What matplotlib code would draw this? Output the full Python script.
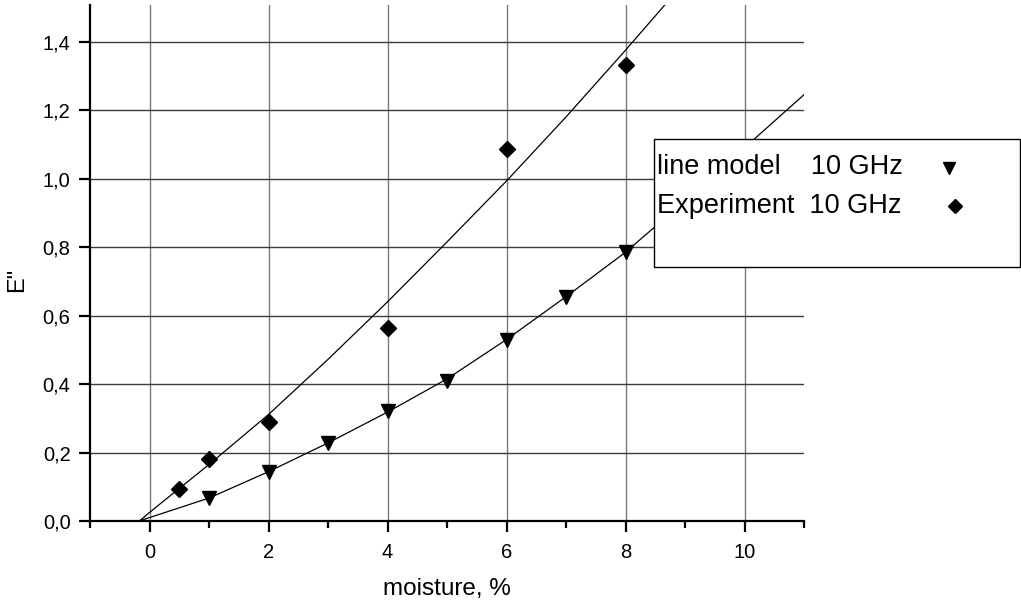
import numpy as np
import matplotlib
matplotlib.use("Agg")
import matplotlib.pyplot as plt
from matplotlib.patches import Rectangle
from matplotlib.lines import Line2D

plt.rcParams['font.family'] = ['Liberation Sans', 'DejaVu Sans']

# measured points
model_x = [1, 2, 3, 4, 5, 6, 7, 8]
model_y = [0.067, 0.144, 0.229, 0.32, 0.41, 0.53, 0.655, 0.787]
exp_x = [0.5, 1, 2, 4, 6, 8]
exp_y = [0.093, 0.18, 0.29, 0.563, 1.086, 1.333]

# fitted curves
fit_exp_x = [-0.17, 0, 1, 2, 3, 4, 5, 6, 7, 8, 8.7]
fit_exp_y = [0.0, 0.025, 0.165, 0.311, 0.472, 0.64, 0.815, 0.993, 1.18, 1.375, 1.515]
fit_model_x = [-0.17, 0, 1, 2, 3, 4, 5, 6, 7, 8, 9, 10, 11]
fit_model_y = [0.0, 0.01, 0.067, 0.144, 0.228, 0.318, 0.415, 0.53, 0.655, 0.785, 0.935, 1.09, 1.245]

xticks = [0, 2, 4, 6, 8, 10]
yticks = [0.0, 0.2, 0.4, 0.6, 0.8, 1.0, 1.2, 1.4]

W, H = 1021, 606
fig = plt.figure(figsize=(W / 100, H / 100), dpi=100)
ax = fig.add_axes([90 / W, 1 - 521 / H, (804 - 90) / W, (521 - 5) / H])

ax.set_xlim(-1, 11)
ax.set_ylim(0, 1.507)

# grid
for x in xticks:
    ax.axvline(x, color='#7a7a7a', lw=1.0, zorder=1)
for y in yticks[1:]:
    ax.axhline(y, color='#3c3c3c', lw=1.0, zorder=1)

ax.plot(fit_exp_x, fit_exp_y, color='black', lw=0.9, zorder=2)
ax.plot(fit_model_x, fit_model_y, color='black', lw=0.9, zorder=2)
ax.plot(model_x, model_y, 'v', color='black', markersize=10, zorder=3, clip_on=False)
ax.plot(exp_x, exp_y, 'D', color='black', markersize=8, zorder=3, clip_on=False)

for s in ['top', 'right']:
    ax.spines[s].set_visible(False)
for s in ['left', 'bottom']:
    ax.spines[s].set_linewidth(1.6)

ax.set_xticks(xticks)
ax.set_xticklabels([str(v) for v in xticks])
ax.set_xticks([-1, 1, 3, 5, 7, 9, 11], minor=True)
ax.set_yticks(yticks)
ax.set_yticklabels([f"{v:.1f}".replace('.', ',') for v in yticks])
ax.tick_params(axis='both', which='major', direction='out', length=8, width=1.6,
               labelsize=14.5, pad=6)
ax.tick_params(axis='x', which='major', pad=8)
ax.tick_params(axis='x', which='minor', direction='out', length=5, width=1.6)

ax.set_xlabel('moisture, %', fontsize=17.5, labelpad=11)
fig.text(17 / W, 1 - 280 / H, 'E"', fontsize=17, rotation=90, ha='center', va='center')

# legend box drawn by hand (it sticks out of the axes)
ft = fig.transFigure
fig.add_artist(Rectangle((654 / W, 1 - 267 / H), (1020 - 654) / W, (267 - 139) / H,
                         transform=ft, facecolor='white', edgecolor='black', lw=1.0, zorder=5))
fig.text(657 / W, 1 - 167 / H, 'line model    10 GHz', fontsize=19.5, va='center', zorder=6)
fig.text(657 / W, 1 - 206 / H, 'Experiment  10 GHz', fontsize=19.5, va='center', zorder=6)
fig.add_artist(Line2D([949 / W], [1 - 168 / H], marker='v', color='black', markersize=9,
                      transform=ft, zorder=6))
fig.add_artist(Line2D([955 / W], [1 - 206 / H], marker='D', color='black', markersize=7,
                      transform=ft, zorder=6))

fig.savefig('out.png', dpi=100)
